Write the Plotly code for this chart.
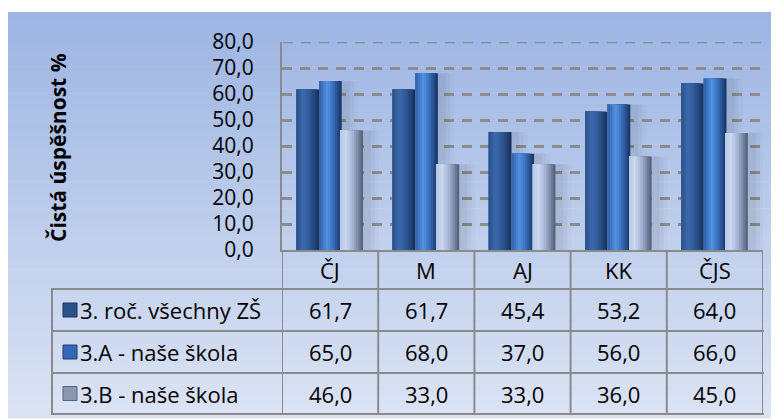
import numpy as np
import plotly.graph_objects as go

# ---- data ----
categories = ["ČJ", "M", "AJ", "KK", "ČJS"]
series_names = ["3. roč. všechny ZŠ", "3.A - naše škola", "3.B - naše škola"]
vals_all = [61.7, 61.7, 45.4, 53.2, 64.0]
vals_a = [65.0, 68.0, 37.0, 56.0, 66.0]
vals_b = [46.0, 33.0, 33.0, 36.0, 45.0]
y_ticks = [0, 10, 20, 30, 40, 50, 60, 70, 80]
y_title = "Čistá úspěšnost %"

series_values = [vals_all, vals_a, vals_b]

W, H = 779, 419
OFF = 8  # page body margin
FONT = "Open Sans"


def px(x):
    return (x - OFF) / W


def py(y):
    return 1 - (y - OFF) / H


def hex2rgb(h):
    h = h.lstrip("#")
    return np.array([int(h[i:i + 2], 16) for i in (0, 2, 4)], dtype=float)


def profile_color(profile, t):
    ts = [p[0] for p in profile]
    cols = np.array([hex2rgb(p[1]) for p in profile])
    c = [np.interp(t, ts, cols[:, k]) for k in range(3)]
    return "rgb(%d,%d,%d)" % tuple(int(round(v)) for v in c)


profiles = [
    [(0, "#2B5189"), (0.3, "#3C6AAC"), (0.6, "#2E5893"), (0.85, "#213F70"), (1, "#15294A")],
    [(0, "#2E60AB"), (0.35, "#5391DE"), (0.6, "#3B72C0"), (0.85, "#234A86"), (1, "#16305A")],
    [(0, "#B9C8E6"), (0.25, "#CAD7F0"), (0.55, "#A3B3D3"), (0.8, "#75849F"), (1, "#4D5A73")],
]
swatch_colors = [("#2B5189", "#1A3560"), ("#3468B5", "#1D3F75"), ("#8A97B3", "#56627C")]
centers = [-0.232, 0.003, 0.225]
bw = 0.235
N = 10
unit_px = 96.2

fig = go.Figure()

# soft shadows behind the bars
for s, vals in enumerate(series_values):
    left = centers[s] - bw / 2
    for j, (dx, a) in enumerate([(14, 0.02), (10, 0.03), (6, 0.04)]):
        fig.add_trace(go.Bar(
            x=categories, y=vals,
            offset=left + 2 / unit_px, width=bw + dx / unit_px,
            marker=dict(color="rgba(0,0,0,%g)" % a, line=dict(width=0)),
            hoverinfo="skip", showlegend=False,
        ))

for s, vals in enumerate(series_values):
    left = centers[s] - bw / 2
    for k in range(N, 0, -1):
        t = (k - 0.5) / N
        fig.add_trace(go.Bar(
            x=categories, y=vals,
            offset=left, width=bw * k / N,
            marker=dict(color=profile_color(profiles[s], t), line=dict(width=0)),
            hoverinfo="skip", showlegend=False,
        ))

shapes = []
# background gradient
y0, y1 = 12, 418
nb = 60
top = hex2rgb("#9CB5E3")
bot = hex2rgb("#DCE4F4")
for i in range(nb):
    f = (i + 0.5) / nb
    c = top + (bot - top) * f
    ya = y0 + (y1 - y0) * i / nb
    yb = y0 + (y1 - y0) * (i + 1) / nb + 0.6
    shapes.append(dict(type="rect", xref="paper", yref="paper",
                       x0=0, x1=1.0, y0=py(yb), y1=py(ya),
                       fillcolor="rgb(%d,%d,%d)" % tuple(int(v) for v in c),
                       line=dict(width=0), layer="below"))

GC = "#8C8C8C"
# dashed line at the top of the value axis
shapes.append(dict(type="line", xref="paper", yref="y",
                   x0=px(283), x1=px(763), y0=y_ticks[-1], y1=y_ticks[-1],
                   line=dict(color=GC, width=2.5, dash="10px,8px"), layer="below"))

LC = "#8A8A8A"
row_y = [250, 289, 331, 373, 414]
for i in range(len(categories) + 1):
    shapes.append(dict(type="line", xref="x", yref="paper",
                       x0=i - 0.5, x1=i - 0.5, y0=py(250), y1=py(414),
                       line=dict(color=LC, width=2)))
shapes.append(dict(type="line", xref="paper", yref="paper",
                   x0=px(52), x1=px(52), y0=py(289), y1=py(414),
                   line=dict(color=LC, width=2)))
for ry in row_y[1:]:
    shapes.append(dict(type="line", xref="paper", yref="paper",
                       x0=px(51), x1=px(764), y0=py(ry), y1=py(ry),
                       line=dict(color=LC, width=2)))

TS = 22
annotations = []
for c in categories:
    annotations.append(dict(x=c, xref="x", y=py((250 + 289) / 2), yref="paper",
                            text=c, showarrow=False, xanchor="center", yanchor="middle",
                            font=dict(family=FONT, size=TS, color="#000000")))
for r, (name, vals) in enumerate(zip(series_names, series_values)):
    cy = (row_y[r + 1] + row_y[r + 2]) / 2
    annotations.append(dict(x=px(78), xref="paper", y=py(cy), yref="paper",
                            text=name, showarrow=False, xanchor="left", yanchor="middle",
                            font=dict(family=FONT, size=TS, color="#000000")))
    fc, lc = swatch_colors[r]
    shapes.append(dict(type="rect", xref="paper", yref="paper",
                       x0=px(63), x1=px(77), y0=py(cy + 7), y1=py(cy - 7),
                       fillcolor=fc, line=dict(color=lc, width=1)))
    for c, v in zip(categories, vals):
        annotations.append(dict(x=c, xref="x", y=py(cy), yref="paper",
                                text=f"{v:.1f}".replace(".", ","), showarrow=False,
                                xanchor="center", yanchor="middle",
                                font=dict(family=FONT, size=TS, color="#000000")))

annotations.append(dict(x=px(58), xref="paper", y=py(148), yref="paper",
                        text="<b>" + y_title + "</b>", textangle=-90, showarrow=False,
                        xanchor="center", yanchor="middle",
                        font=dict(family=FONT, size=21, color="#000000")))

fig.update_layout(
    width=W, height=H, autosize=False,
    margin=dict(l=0, r=0, t=0, b=0, autoexpand=False),
    paper_bgcolor="white", plot_bgcolor="white",
    barmode="overlay",
    separators=", ",
    showlegend=False,
    shapes=shapes,
    annotations=annotations,
    xaxis=dict(domain=[px(282), px(763)], range=[-0.5, 4.5], type="category",
               showticklabels=False, showgrid=False, zeroline=False, automargin=False,
               showline=True, linecolor=LC, linewidth=2, fixedrange=True),
    yaxis=dict(domain=[py(250), py(42)], range=[0, 80], tickvals=y_ticks,
               tickformat=".1f", ticks="outside", ticklen=22, tickcolor="rgba(0,0,0,0)",
               tickfont=dict(family=FONT, size=21, color="#000000"), automargin=False,
               showgrid=True, gridcolor=GC, gridwidth=2.5, griddash="10px,8px",
               zeroline=False, showline=True, linecolor=LC, linewidth=2, fixedrange=True),
)

fig.write_html("out.html")
